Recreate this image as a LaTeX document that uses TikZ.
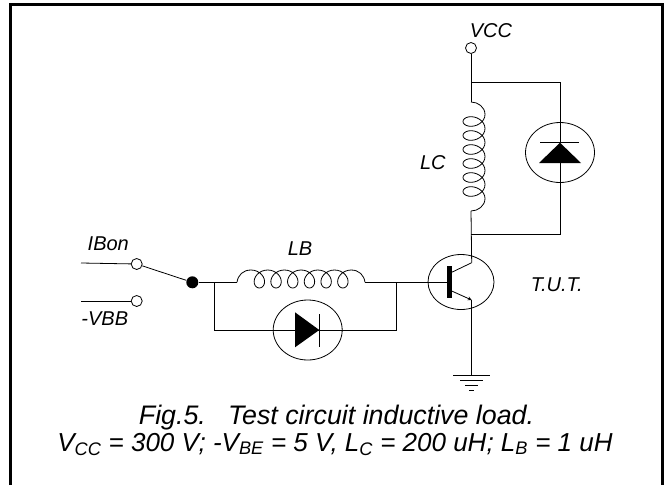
\documentclass[tikz,border=0pt]{standalone}
\usepackage{fontspec}
\setmainfont{Liberation Sans}
\usetikzlibrary{shapes.geometric}

\begin{document}
\begin{tikzpicture}[x=1pt,y=-1pt,>=stealth,line width=0.8pt,
    terminal/.style={circle,draw,fill=white,inner sep=0pt,minimum size=11pt},
    junction/.style={circle,fill=black,inner sep=0pt,minimum size=12pt},
    round case/.style={ellipse,draw,inner sep=0pt,minimum width=69pt,minimum height=60pt},
    label/.style={font=\fontsize{20}{22}\selectfont\itshape,inner sep=0pt,anchor=base},
    caption/.style={font=\fontsize{26}{28}\selectfont\itshape,inner sep=0pt,anchor=base}]
    \useasboundingbox (0,0) rectangle (669,485);
    \fill[white] (0,0) rectangle (669,485);
    \draw[line width=3pt] (10.5,485) -- (10.5,4.5) -- (662,4.5) -- (662,485);

    \node[terminal] (vcc) at (471,48) {};
    \node[terminal] (ibon) at (136.7,264) {};
    \node[terminal] (vbb) at (136.7,301) {};
    \node[junction] (dot) at (192.3,282.3) {};
    \node[round case] (dc) at (560,152.5) {};
    \node[round case] (db) at (307.7,330) {};
    \node[ellipse,draw,inner sep=0pt,minimum width=66pt,minimum height=55pt] (tut) at (461,282) {};

    \coordinate (ibonend) at (81,263);
    \coordinate (vbbend) at (81,301);
    \coordinate (lctop) at (471,102);
    \coordinate (lcbot) at (471,211);
    \coordinate (lbleft) at (237,282.3);
    \coordinate (lbright) at (365,282.3);
    \coordinate (tap) at (471,82);
    \coordinate (join) at (471,234);
    \coordinate (bleft) at (214.3,282.3);
    \coordinate (bright) at (396,282.3);
    \coordinate (base) at (449.3,282.3);
    \coordinate (coll) at (471.7,262.7);
    \coordinate (emit) at (471.7,300);
    \coordinate (gnd) at (471.7,375);

    % switch
    \draw (ibonend) -- (ibon);
    \draw (vbbend) -- (vbb);
    \draw (ibon) -- (dot);
    \draw (dot) -- (lbleft);

    % LB
    \draw (lbleft) .. controls (238,275) and (243,270) .. (251,270)
        -- plot[domain=0:6,samples=145,variable=\t] ({251+16.7*\t+9*sin(360*\t)},{279-9*cos(360*\t)})
        .. controls (359,270) and (364,275) .. (lbright);
    \draw (lbright) -- (base);
    \draw (bleft) |- (db.west);
    \draw (bright) |- (db.east);
    \draw (db.west) -- (db.east);
    \fill (295,312.3) -- (319.3,330) -- (295,347.3) -- cycle;
    \draw (319.3,314) -- (319.3,346.7);

    % LC
    \draw (vcc) -- (lctop);
    \draw (lctop) .. controls (478,102) and (485,107) .. (485,114.5)
        -- plot[domain=0:6,samples=145,variable=\t] ({474+11*cos(360*\t)},{114.5+14*\t+8*sin(360*\t)})
        .. controls (485,206) and (478,211) .. (lcbot);
    \draw (tap) -| (dc.north);
    \draw (dc.north) -- (560,143);
    \draw (560,163) -- (dc.south);
    \draw (dc.south) |- (join);
    \fill (560,142.7) -- (581,163) -- (539,163) -- cycle;
    \draw (540,142) -- (579,142);

    % transistor
    \draw (lcbot) -- (coll);
    \draw (451.7,272.3) -- (coll);
    \draw[->] (451.7,291) -- (emit);
    \draw (emit) -- (gnd);
    \draw[line width=4.5pt] (449.3,266) -- (449.3,297.7);
    \draw (453.3,375) -- (490,375);
    \draw (460,380.7) -- (483.3,380.7);
    \draw (465,385.3) -- (478.3,385.3);
    \draw (469,390.7) -- (474,390.7);

    % labels
    \node[label] (vcctext) at (491,37.3) {VCC};
    \node[label] (lctext) at (432.8,169) {LC};
    \node[label] (lbtext) at (300,255.7) {LB};
    \node[label] (ibontext) at (108.3,250) {IBon};
    \node[label] (vbbtext) at (104.8,325) {-VBB};
    \node[label] (tuttext) at (556.7,291.7) {T.U.T.};
    \node[caption,font=\fontsize{26.8}{28}\selectfont\itshape] (title) at (336.5,424) {Fig.5.\ \ \ Test circuit inductive load.};
    \node[caption] (params) at (335,451) {V\textsubscript{CC} = 300 V; -V\textsubscript{BE} = 5 V, L\textsubscript{C} = 200 uH; L\textsubscript{B} = 1 uH};
\end{tikzpicture}
\end{document}
